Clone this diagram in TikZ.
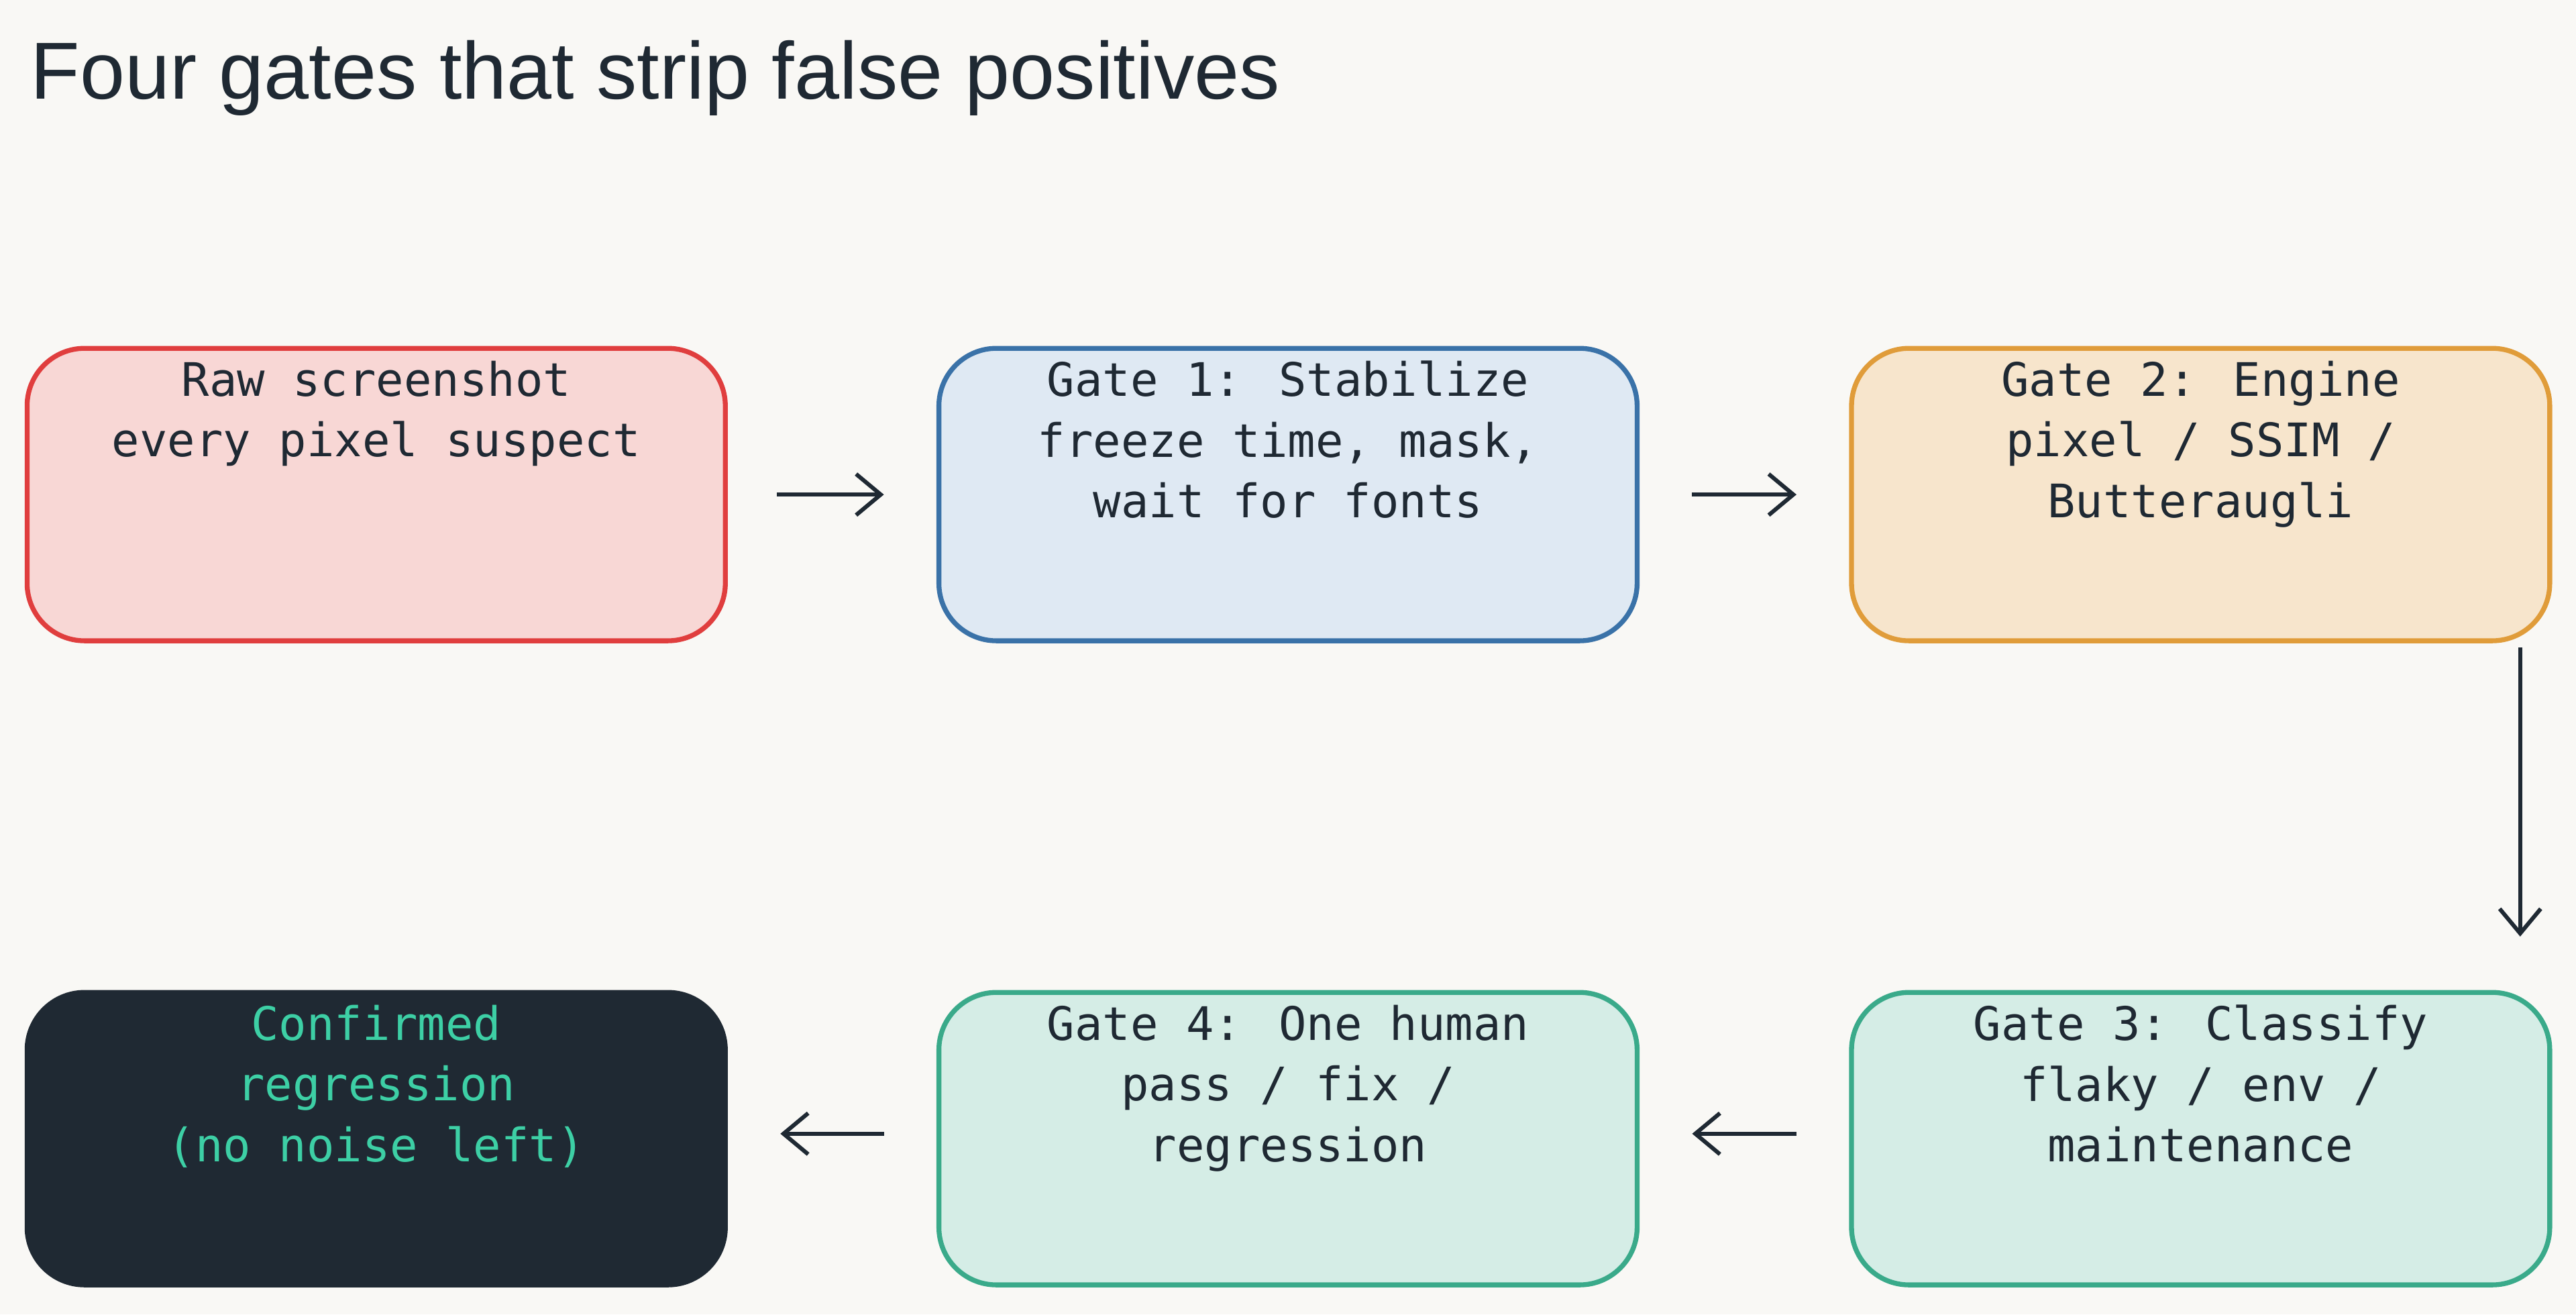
\documentclass[tikz,border=0pt]{standalone}
\usepackage{fontspec}
\setmainfont{Liberation Sans}
\newfontfamily\boxfont{DejaVu Sans Mono}
\usetikzlibrary{arrows.meta}
\definecolor{bgpaper}{HTML}{F9F8F5}
\definecolor{inkdark}{HTML}{1F2933}
\definecolor{redline}{HTML}{E03E3E}\definecolor{redfill}{HTML}{F8D7D5}
\definecolor{blueline}{HTML}{3A72A8}\definecolor{bluefill}{HTML}{DFE9F3}
\definecolor{orgline}{HTML}{E09C3A}\definecolor{orgfill}{HTML}{F7E5CC}
\definecolor{grnline}{HTML}{3AAA8A}\definecolor{grnfill}{HTML}{D5EDE6}
\definecolor{mint}{HTML}{3DCFA5}
\tikzset{
  gate/.style={draw, line width=1.7pt, rounded corners=0.7cm,
    minimum width=8.5cm, minimum height=3.56cm},
  gatetext/.style={anchor=north, yshift=-0.06cm, align=center, text=inkdark,
    font=\boxfont\fontsize{16}{21}\selectfont},
  flow/.style={inkdark, line width=1.4pt, -{Straight Barb[length=0.3cm,width=0.5cm]}}
}
\begin{document}
\begin{tikzpicture}
\fill[bgpaper] (0,0) rectangle (31.36,-16);
\useasboundingbox (0,0) rectangle (31.36,-16);

\node[anchor=west, text=inkdark, font=\fontsize{28}{34}\selectfont] (title) at (0.25,-0.95) {Four gates that strip false positives};

% top row
\node[gate, draw=redline, fill=redfill] (raw) at (4.58,-6.02) {};
\node[gatetext] at (raw.north) {Raw screenshot\\every pixel suspect};
\node[gate, draw=blueline, fill=bluefill] (stab) at (15.68,-6.02) {};
\node[gatetext] at (stab.north) {Gate 1: Stabilize\\freeze time, mask,\\wait for fonts};
\node[gate, draw=orgline, fill=orgfill] (engine) at (26.79,-6.02) {};
\node[gatetext] at (engine.north) {Gate 2: Engine\\pixel / SSIM /\\Butteraugli};

% bottom row
\node[gate, draw=grnline, fill=grnfill] (classify) at (26.79,-13.86) {};
\node[gatetext] at (classify.north) {Gate 3: Classify\\flaky / env /\\maintenance};
\node[gate, draw=grnline, fill=grnfill] (human) at (15.68,-13.86) {};
\node[gatetext] at (human.north) {Gate 4: One human\\pass / fix /\\regression};
\node[gate, draw=inkdark, fill=inkdark] (done) at (4.58,-13.86) {};
\node[gatetext, text=mint] at (done.north) {Confirmed\\regression\\(no noise left)};

% connectors
\draw[flow, shorten <=0.6cm, shorten >=0.64cm] (raw.east |- 0,-6.02) -- (stab.west |- 0,-6.02);
\draw[flow, shorten <=0.64cm, shorten >=0.64cm] (stab) -- (engine);
\draw[flow, shorten <=0.05cm, shorten >=0.65cm] (engine.south -| 30.68,0) -- (classify.north -| 30.68,0);
\draw[flow, shorten <=0.64cm, shorten >=0.64cm] (classify.west |- 0,-13.8) -- (human.east |- 0,-13.8);
\draw[flow, shorten <=0.64cm, shorten >=0.64cm] (human.west |- 0,-13.8) -- (done.east |- 0,-13.8);
\end{tikzpicture}
\end{document}
